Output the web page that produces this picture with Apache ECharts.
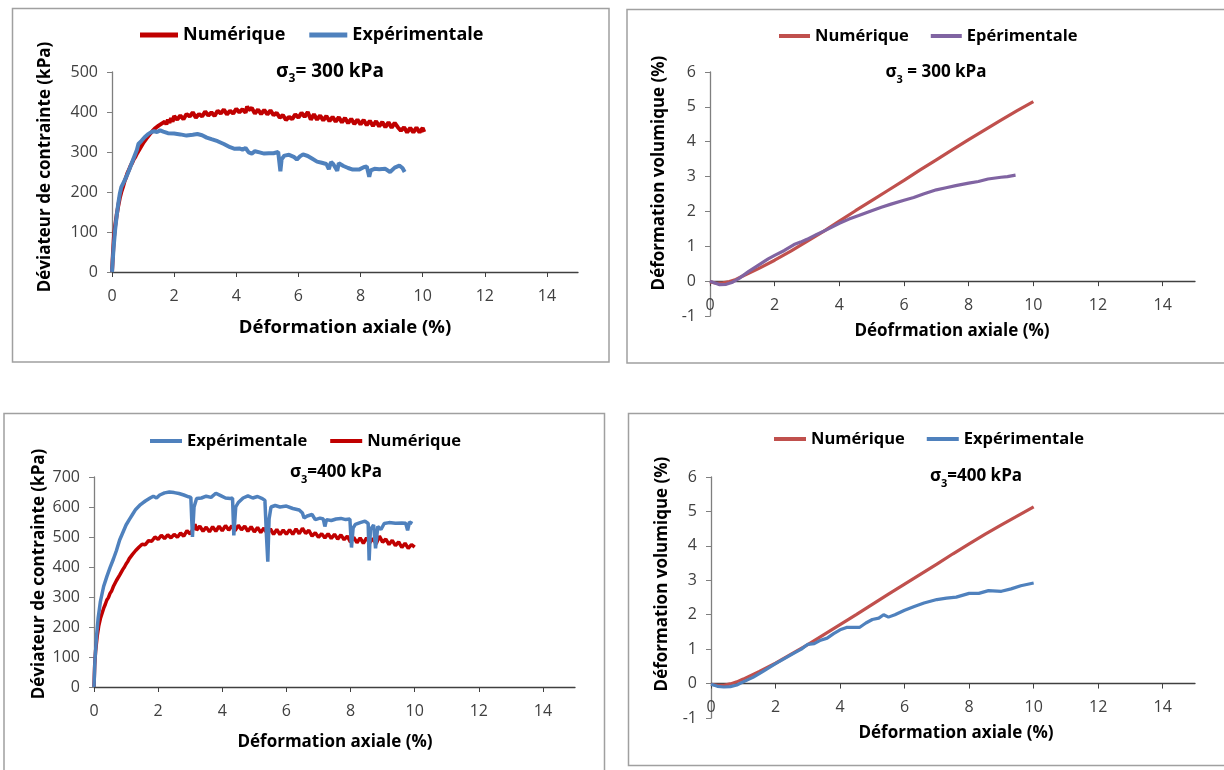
<!DOCTYPE html>
<html><head><meta charset="utf-8">
<script src="https://cdn.jsdelivr.net/npm/echarts@6/dist/echarts.min.js"></script>
<style>html,body{margin:0;padding:0;background:#fff}#c{width:1224px;height:770px}</style>
</head><body><div id="c"></div>
<script>
// ---------- DATA ----------
const xTickValues = [0, 2, 4, 6, 8, 10, 12, 14];

// Panel 1 : déviateur, sigma3 = 300 kPa  [déformation axiale %, kPa]
const num300Dev = [[0,0],[0.03,45],[0.06,85],[0.1,115],[0.15,142],[0.2,165],[0.25,185],[0.3,200],[0.35,212],[0.4,226],[0.45,236],[0.5,248],[0.55,256],[0.6,266],[0.65,273],[0.7,282],[0.75,288],[0.8,296],[0.85,301],[0.9,309],[0.95,313],[1.0,322],[1.05,324],[1.1,333],[1.15,333],[1.2,343],[1.25,342],[1.3,352],[1.35,350],[1.4,360],[1.45,356],[1.5,366],[1.55,361],[1.6,371],[1.65,366],[1.7,376],[1.75,369],[1.8,381],[1.85,373],[1.9,385],[1.95,376],[2.0,390],[2.1,381],[2.2,391],[2.3,382],[2.4,395],[2.5,389],[2.6,399],[2.7,386],[2.8,395],[2.9,389],[3.0,401],[3.1,391],[3.2,399],[3.3,390],[3.4,403],[3.5,396],[3.6,406],[3.7,394],[3.8,403],[3.9,396],[4.0,408],[4.1,399],[4.2,407],[4.3,398],[4.35,414],[4.4,405],[4.5,410],[4.6,396],[4.7,406],[4.8,395],[4.9,405],[5.0,394],[5.1,404],[5.2,392],[5.3,398],[5.4,386],[5.5,392],[5.6,380],[5.7,388],[5.8,382],[5.9,394],[6.0,386],[6.1,398],[6.2,388],[6.3,400],[6.35,403],[6.4,381],[6.5,394],[6.6,381],[6.7,391],[6.8,379],[6.9,390],[7.0,377],[7.1,388],[7.2,376],[7.3,387],[7.4,374],[7.5,385],[7.6,372],[7.7,383],[7.8,370],[7.9,381],[8.0,369],[8.1,380],[8.2,367],[8.3,378],[8.4,365],[8.5,377],[8.6,364],[8.7,375],[8.8,362],[8.9,374],[9.0,361],[9.1,373],[9.2,362],[9.3,353],[9.4,362],[9.5,349],[9.6,360],[9.7,349],[9.8,361],[9.9,349],[10.0,360],[10.05,350]];
const exp300Dev = [[0,0],[0.05,60],[0.1,105],[0.15,140],[0.2,170],[0.25,195],[0.3,212],[0.4,228],[0.5,245],[0.6,265],[0.7,285],[0.8,305],[0.85,320],[0.95,328],[1.05,337],[1.15,344],[1.25,349],[1.35,352],[1.45,350],[1.55,354],[1.65,351],[1.8,347],[2.0,346],[2.2,344],[2.4,341],[2.6,343],[2.75,345],[2.9,342],[3.05,336],[3.2,332],[3.4,327],[3.6,320],[3.8,312],[3.95,308],[4.1,309],[4.2,306],[4.3,310],[4.4,299],[4.5,296],[4.6,302],[4.75,299],[4.9,296],[5.05,297],[5.2,297],[5.35,300],[5.42,252],[5.46,282],[5.55,291],[5.7,293],[5.85,288],[5.95,281],[6.05,289],[6.15,294],[6.3,290],[6.45,283],[6.6,276],[6.75,273],[6.9,270],[6.98,257],[7.05,275],[7.12,270],[7.25,253],[7.3,272],[7.45,265],[7.6,260],[7.75,256],[7.95,256],[8.1,262],[8.2,264],[8.28,238],[8.33,254],[8.45,258],[8.6,257],[8.8,258],[8.95,250],[9.1,261],[9.25,266],[9.35,260],[9.42,250]];

// Panel 2 : déformation volumique, sigma3 = 300 kPa
const num300Vol = [[0,-0.02],[0.2,-0.06],[0.4,-0.05],[0.6,-0.01],[0.8,0.05],[1.0,0.14],[1.5,0.36],[2.0,0.6],[2.5,0.86],[3.0,1.14],[3.5,1.42],[4.0,1.72],[4.5,2.02],[5.0,2.31],[5.5,2.6],[6.0,2.89],[6.5,3.19],[7.0,3.48],[7.5,3.77],[8.0,4.06],[8.5,4.34],[9.0,4.62],[9.5,4.89],[10.0,5.15]];
const exp300Vol = [[0,0.0],[0.15,-0.05],[0.3,-0.1],[0.5,-0.09],[0.7,-0.03],[0.9,0.08],[1.2,0.28],[1.5,0.46],[1.8,0.64],[2.0,0.74],[2.3,0.88],[2.6,1.05],[2.8,1.12],[3.0,1.2],[3.3,1.34],[3.6,1.47],[4.0,1.66],[4.3,1.78],[4.6,1.88],[5.0,2.02],[5.3,2.12],[5.6,2.21],[6.0,2.32],[6.3,2.4],[6.6,2.5],[7.0,2.62],[7.3,2.68],[7.6,2.74],[8.0,2.81],[8.3,2.86],[8.6,2.93],[9.0,2.98],[9.2,3.0],[9.45,3.04]];

// Panel 3 : déviateur, sigma3 = 400 kPa
const exp400Dev = [[0,0],[0.03,90],[0.08,170],[0.13,230],[0.2,285],[0.3,335],[0.4,368],[0.5,398],[0.6,425],[0.7,455],[0.8,490],[0.9,515],[1.0,540],[1.1,558],[1.2,575],[1.3,592],[1.45,608],[1.6,620],[1.75,630],[1.85,636],[1.95,630],[2.05,640],[2.2,647],[2.35,650],[2.5,648],[2.65,645],[2.8,640],[2.95,634],[3.02,632],[3.07,500],[3.12,600],[3.2,628],[3.35,630],[3.5,636],[3.65,632],[3.8,646],[3.95,638],[4.1,630],[4.25,628],[4.32,630],[4.36,505],[4.42,600],[4.5,615],[4.65,630],[4.8,637],[4.95,630],[5.1,635],[5.25,628],[5.33,622],[5.38,500],[5.42,418],[5.46,560],[5.52,600],[5.65,605],[5.8,600],[6.0,603],[6.2,595],[6.4,590],[6.5,580],[6.55,563],[6.65,570],[6.8,575],[6.9,558],[7.05,563],[7.15,560],[7.2,535],[7.25,558],[7.4,555],[7.55,560],[7.7,562],[7.85,558],[7.98,560],[8.03,465],[8.08,530],[8.15,542],[8.3,548],[8.45,553],[8.55,545],[8.58,422],[8.62,525],[8.72,540],[8.78,462],[8.85,535],[8.95,525],[9.05,545],[9.2,548],[9.4,546],[9.6,547],[9.72,546],[9.78,522],[9.84,550],[9.93,545]];
const num400Dev = [[0,0],[0.02,70],[0.05,120],[0.1,170],[0.15,205],[0.2,228],[0.25,245],[0.3,262],[0.35,275],[0.4,290],[0.45,298],[0.5,312],[0.55,320],[0.6,334],[0.65,340],[0.7,355],[0.75,360],[0.8,373],[0.85,378],[0.9,392],[0.95,400],[1.0,410],[1.05,418],[1.1,428],[1.15,432],[1.2,442],[1.25,443],[1.3,455],[1.35,452],[1.4,466],[1.45,463],[1.5,476],[1.6,474],[1.7,488],[1.8,486],[1.9,500],[2.0,492],[2.1,506],[2.2,495],[2.3,507],[2.4,497],[2.5,509],[2.6,499],[2.7,513],[2.8,503],[2.9,521],[3.0,510],[3.1,529],[3.15,543],[3.2,523],[3.3,536],[3.4,519],[3.5,533],[3.6,517],[3.7,534],[3.8,519],[3.9,536],[4.0,521],[4.1,538],[4.2,523],[4.3,537],[4.4,521],[4.5,539],[4.6,524],[4.7,536],[4.8,519],[4.9,534],[5.0,517],[5.1,532],[5.2,515],[5.3,530],[5.4,511],[5.5,527],[5.6,509],[5.7,525],[5.8,508],[5.9,523],[6.0,509],[6.1,524],[6.2,509],[6.3,527],[6.4,511],[6.5,529],[6.6,512],[6.7,522],[6.8,503],[6.9,514],[7.0,499],[7.1,511],[7.2,497],[7.3,511],[7.4,495],[7.5,509],[7.6,493],[7.7,507],[7.8,491],[7.9,503],[8.0,483],[8.1,499],[8.2,481],[8.3,497],[8.4,479],[8.5,497],[8.6,481],[8.7,495],[8.8,477],[8.9,503],[9.0,483],[9.1,493],[9.2,475],[9.3,489],[9.4,471],[9.5,484],[9.6,465],[9.7,479],[9.8,462],[9.9,475],[10.0,466]];

// Panel 4 : déformation volumique, sigma3 = 400 kPa
const num400Vol = [[0,-0.02],[0.2,-0.05],[0.4,-0.05],[0.6,-0.01],[0.8,0.05],[1.0,0.13],[1.5,0.35],[2.0,0.59],[2.5,0.86],[3.0,1.13],[3.5,1.42],[4.0,1.71],[4.5,2.0],[5.0,2.3],[5.5,2.6],[6.0,2.89],[6.5,3.18],[7.0,3.47],[7.5,3.77],[8.0,4.06],[8.5,4.34],[9.0,4.61],[9.5,4.87],[10.0,5.13]];
const exp400Vol = [[0,-0.02],[0.2,-0.08],[0.4,-0.1],[0.6,-0.09],[0.8,-0.04],[1.0,0.05],[1.3,0.18],[1.6,0.35],[2.0,0.58],[2.3,0.74],[2.6,0.9],[2.8,1.0],[3.0,1.14],[3.2,1.16],[3.4,1.26],[3.6,1.32],[3.8,1.45],[4.0,1.56],[4.2,1.63],[4.4,1.63],[4.6,1.63],[4.8,1.76],[5.0,1.86],[5.2,1.9],[5.35,2.0],[5.5,1.93],[5.7,2.0],[6.0,2.13],[6.3,2.24],[6.6,2.34],[7.0,2.44],[7.3,2.48],[7.6,2.51],[8.0,2.62],[8.3,2.62],[8.6,2.7],[9.0,2.68],[9.3,2.75],[9.6,2.84],[10.0,2.92]];

// ---------- STYLE ----------
const FONT = '"Open Sans", Lato, sans-serif';
const TICK_COLOR = '#404040';
const DARK_RED = '#C00000', BLUE = '#4F81BD', RED = '#C0504D', PURPLE = '#8064A2';

const chart = echarts.init(document.getElementById('c'), null, {renderer: 'canvas'});

function xAx(gi, offset) {
  return {
    type: 'value', gridIndex: gi, min: 0, max: 15, interval: 2, position: 'bottom', offset: offset,
    axisLine: {show: true, onZero: false, lineStyle: {color: '#404040', width: 1.3}},
    axisTick: {show: true, inside: false, length: 5, customValues: xTickValues, lineStyle: {color: '#404040'}},
    axisLabel: {customValues: xTickValues, margin: 16, color: TICK_COLOR, fontFamily: FONT, fontSize: 16},
    splitLine: {show: false}
  };
}
function yAx(gi, min, max, interval) {
  return {
    type: 'value', gridIndex: gi, min: min, max: max, interval: interval,
    axisLine: {show: true, onZero: false, lineStyle: {color: '#7f7f7f', width: 1.3}},
    axisTick: {show: true, inside: false, length: 5, lineStyle: {color: '#7f7f7f'}},
    axisLabel: {margin: 14, color: TICK_COLOR, fontFamily: FONT, fontSize: 16},
    splitLine: {show: false}
  };
}
function ser(name, gi, data, color, width) {
  return {
    name: name, type: 'line', xAxisIndex: gi, yAxisIndex: gi, data: data,
    showSymbol: false, symbol: 'none', smooth: false, animation: false,
    lineStyle: {color: color, width: width}, itemStyle: {color: color}
  };
}
function leg(left, top, names, w, gap, size, h) {
  return {
    left: left, top: top, padding: 0, icon: 'rect', itemWidth: w, itemHeight: h, itemGap: gap,
    data: names, selectedMode: false,
    formatter: n => n.split('#')[0],
    textStyle: {fontFamily: FONT, fontWeight: 'bold', fontSize: size, color: '#000', lineHeight: 22}
  };
}
function txt(x, y, text, size, rot) {
  return {type: 'text', x: x, y: y, rotation: rot || 0, silent: true,
    style: {text: text, fill: '#000', fontFamily: FONT, fontWeight: 'bold', fontSize: size,
      align: 'center', verticalAlign: 'middle', textAlign: 'center', textVerticalAlign: 'middle'}};
}
function sig(x, y, rest, size) {
  return {type: 'text', x: x, y: y, silent: true,
    style: {text: '{a|σ}{b|3}{a|' + rest + '}', align: 'center', verticalAlign: 'middle',
      textAlign: 'center', textVerticalAlign: 'middle',
      rich: {
        a: {fontFamily: FONT, fontWeight: 'bold', fontSize: size, fill: '#000', color: '#000', lineHeight: 26, verticalAlign: 'middle'},
        b: {fontFamily: FONT, fontWeight: 'bold', fontSize: Math.round(size * 0.62), fill: '#000', color: '#000', lineHeight: 26, verticalAlign: 'bottom'}
      }}};
}
function frame(x, y, w, h) {
  return {type: 'rect', silent: true, shape: {x: x, y: y, width: w, height: h},
    style: {fill: 'none', stroke: '#a0a0a0', lineWidth: 1.5}};
}

const option = {
  backgroundColor: '#ffffff',
  animation: false,
  grid: [
    {left: 112, top: 72, width: 466, height: 200},
    {left: 710, top: 72, width: 485, height: 244},
    {left: 94, top: 477, width: 481, height: 210},
    {left: 711, top: 477, width: 484, height: 241}
  ],
  // x axes of the volumetric panels sit on the zero line (one unit above the -1 bottom)
  xAxis: [xAx(0, 0), xAx(1, -244 / 7), xAx(2, 0), xAx(3, -241 / 7)],
  yAxis: [yAx(0, 0, 500, 100), yAx(1, -1, 6, 1), yAx(2, 0, 700, 100), yAx(3, -1, 6, 1)],
  legend: [
    leg(140, 24, ['Numérique#1', 'Expérimentale#1'], 38, 24, 18, 5),
    leg(779, 25, ['Numérique#2', 'Epérimentale#2'], 31, 22, 16.5, 4),
    leg(150, 430, ['Expérimentale#3', 'Numérique#3'], 32, 23, 16.5, 4),
    leg(774, 428, ['Numérique#4', 'Expérimentale#4'], 32, 22, 16.5, 4)
  ],
  series: [
    ser('Numérique#1', 0, num300Dev, DARK_RED, 4),
    ser('Expérimentale#1', 0, exp300Dev, BLUE, 4),
    ser('Numérique#2', 1, num300Vol, RED, 3.2),
    ser('Epérimentale#2', 1, exp300Vol, PURPLE, 3.2),
    ser('Numérique#3', 2, num400Dev, DARK_RED, 3.5),
    ser('Expérimentale#3', 2, exp400Dev, BLUE, 3.5),
    ser('Numérique#4', 3, num400Vol, RED, 3.2),
    ser('Expérimentale#4', 3, exp400Vol, BLUE, 3.2)
  ],
  graphic: [
    frame(12.5, 8.5, 596.5, 353.5),
    frame(627, 9.5, 620, 353.5),
    frame(4, 413.5, 600.5, 380),
    frame(628.5, 413.5, 620, 352),
    txt(345, 328, 'Déformation axiale (%)', 18.5),
    txt(952, 331, 'Déofrmation axiale (%)', 17),
    txt(335, 742, 'Déformation axiale (%)', 17),
    txt(956, 733, 'Déformation axiale (%)', 17),
    txt(45, 167, 'Déviateur de contrainte (kPa)', 17, Math.PI / 2),
    txt(659, 173, 'Déformation volumique (%)', 17, Math.PI / 2),
    txt(39, 574, 'Déviateur de contrainte (kPa)', 17, Math.PI / 2),
    txt(662, 574, 'Déformation volumique (%)', 17, Math.PI / 2),
    sig(330, 72, '= 300 kPa', 19),
    sig(936, 72, ' = 300 kPa', 17),
    sig(336, 472, '=400 kPa', 17),
    sig(976, 476, '=400 kPa', 17)
  ]
};
chart.setOption(option);
</script>
</body></html>
